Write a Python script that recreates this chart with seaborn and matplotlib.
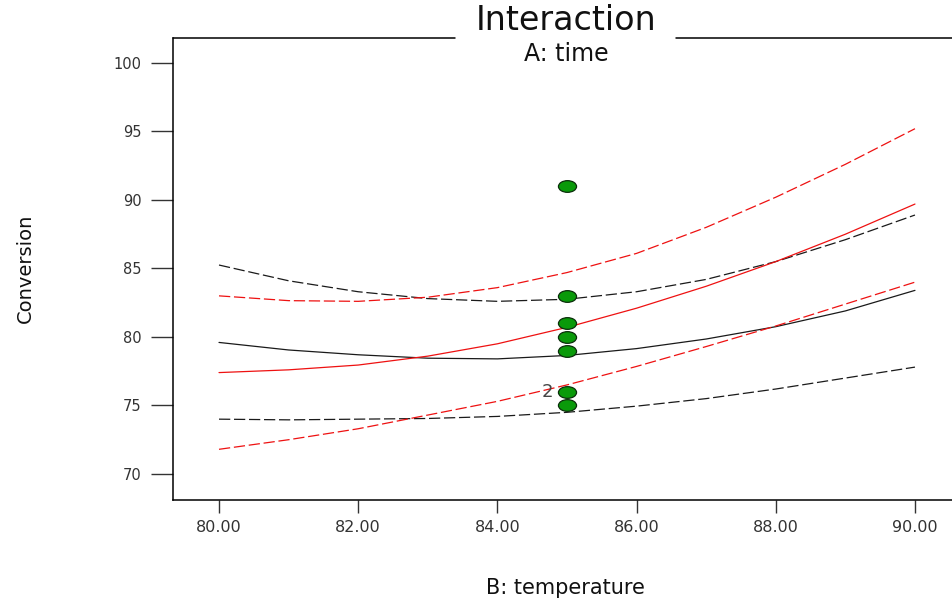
import numpy as np
import pandas as pd
import matplotlib
matplotlib.use("Agg")
import matplotlib.pyplot as plt
from matplotlib.path import Path
from matplotlib.transforms import Affine2D
from matplotlib.lines import Line2D
from matplotlib.ticker import FormatStrFormatter
import seaborn as sns

# ---- data ----
temperature = [80, 81, 82, 83, 84, 85, 86, 87, 88, 89, 90]
low_time_mean = [79.6, 79.05, 78.7, 78.45, 78.4, 78.65, 79.15, 79.85, 80.75, 81.9, 83.4]
low_time_upper = [85.25, 84.1, 83.3, 82.8, 82.6, 82.75, 83.3, 84.2, 85.5, 87.1, 88.9]
low_time_lower = [74.0, 73.95, 74.0, 74.05, 74.2, 74.5, 74.95, 75.5, 76.2, 77.0, 77.8]
high_time_mean = [77.4, 77.6, 77.95, 78.6, 79.5, 80.7, 82.1, 83.7, 85.5, 87.5, 89.7]
high_time_upper = [83.0, 82.65, 82.6, 82.9, 83.6, 84.7, 86.1, 88.0, 90.2, 92.6, 95.2]
high_time_lower = [71.8, 72.5, 73.3, 74.3, 75.3, 76.5, 77.85, 79.3, 80.8, 82.4, 84.0]

obs_temperature = [85, 85, 85, 85, 85, 85, 85]
obs_conversion = [91, 83, 81, 80, 79, 76, 75]
replicate_label = "2"
replicate_value = 76

y_ticks = [70, 75, 80, 85, 90, 95, 100]
x_ticks = [80, 82, 84, 86, 88, 90]

# ---- styling ----
sns.set_style("ticks")
plt.rcParams["font.family"] = ["DejaVu Sans"]

fig = plt.figure(figsize=(9.52, 6.03), dpi=100)
ax = fig.add_axes([173 / 952, 1 - 500 / 603, (952 - 173) / 952, (500 - 38) / 603])

series = [
    (low_time_mean, "#1a1a1a", "-"),
    (low_time_upper, "#1a1a1a", (0, (9, 3))),
    (low_time_lower, "#1a1a1a", (0, (9, 3))),
    (high_time_mean, "#ee1111", "-"),
    (high_time_upper, "#ee1111", (0, (9, 3))),
    (high_time_lower, "#ee1111", (0, (9, 3))),
]
for vals, col, ls in series:
    df = pd.DataFrame({"temperature": temperature, "conversion": vals})
    sns.lineplot(data=df, x="temperature", y="conversion", color=col,
                 linestyle=ls, linewidth=0.9, ax=ax, estimator=None)

ellipse = Path.unit_circle().transformed(Affine2D().scale(1.55, 1.0))
pts = pd.DataFrame({"temperature": obs_temperature, "conversion": obs_conversion})
sns.scatterplot(data=pts, x="temperature", y="conversion", marker=ellipse,
                s=170, color="#0a9a0a", edgecolor="#0b2f0b", linewidth=0.9,
                ax=ax, zorder=5)
ax.annotate(replicate_label, xy=(85, replicate_value), xytext=(-14, 0),
            textcoords="offset points", ha="center", va="center",
            fontsize=13, color="#444444")

ax.set_xlim(79.339, 90.532)
ax.set_ylim(68.10, 101.82)
ax.set_xticks(x_ticks)
ax.set_yticks(y_ticks)
ax.xaxis.set_major_formatter(FormatStrFormatter("%.2f"))
ax.set_xlabel("")
ax.set_ylabel("")

for side in ["left", "bottom"]:
    ax.spines[side].set_visible(True)
    ax.spines[side].set_color("black")
    ax.spines[side].set_linewidth(1.1)
ax.spines["right"].set_visible(False)
ax.spines["top"].set_visible(False)

# top frame line, broken around the title
H = 603.0
W = 952.0
for x0, x1 in [(173, 455), (676, 952)]:
    fig.add_artist(Line2D([x0 / W, x1 / W], [1 - 38 / H, 1 - 38 / H],
                          color="black", linewidth=1.1,
                          transform=fig.transFigure))

ax.tick_params(axis="y", direction="out", length=16, width=1.0,
               color="#333333", labelsize=10.5, labelcolor="#333333", pad=6.5)
ax.tick_params(axis="x", direction="out", length=9.4, width=1.0,
               color="#333333", labelsize=11.5, labelcolor="#333333", pad=5)

fig.text(566 / W, 1 - 21 / H, "Interaction", ha="center", va="center",
         fontsize=24, color="#111111")
fig.text(566 / W, 1 - 54 / H, "A: time", ha="center", va="center",
         fontsize=17, color="#111111")
fig.text(565 / W, 1 - 588 / H, "B: temperature", ha="center", va="center",
         fontsize=15, color="#111111")
fig.text(25 / W, 1 - 268 / H, "Conversion", ha="center", va="center",
         rotation=90, fontsize=14, color="#111111")

fig.savefig("out.png", dpi=100)
